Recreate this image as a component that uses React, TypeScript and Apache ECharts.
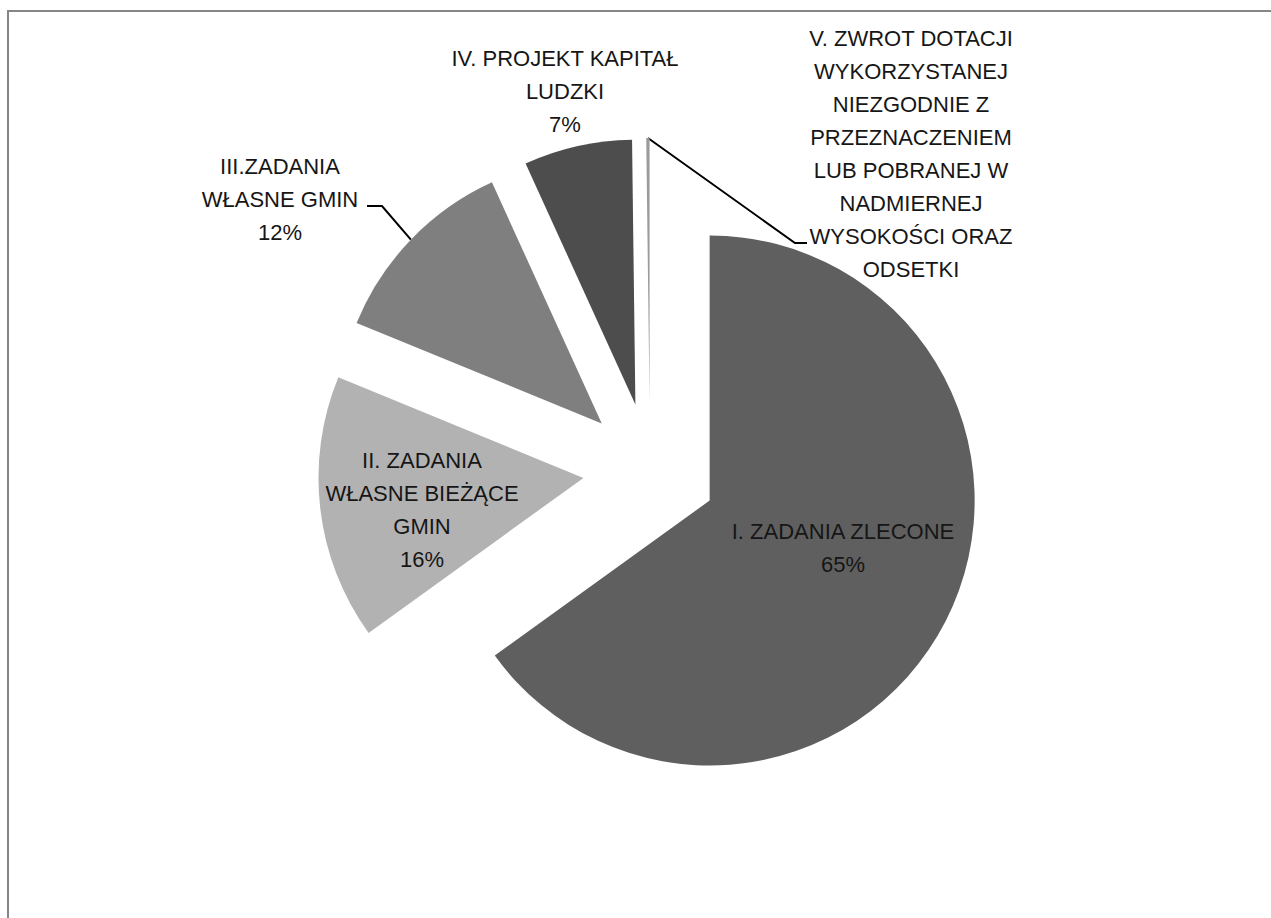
import React, { useEffect, useRef } from "react";
import * as echarts from "echarts";

const categories = [
  "I. ZADANIA ZLECONE",
  "II. ZADANIA\nWŁASNE BIEŻĄCE\nGMIN",
  "III.ZADANIA\nWŁASNE GMIN",
  "IV. PROJEKT KAPITAŁ\nLUDZKI",
  "V. ZWROT DOTACJI\nWYKORZYSTANEJ\nNIEZGODNIE Z\nPRZEZNACZENIEM\nLUB POBRANEJ W\nNADMIERNEJ\nWYSOKOŚCI ORAZ\nODSETKI",
];
const values = [65.05, 16.15, 12.0, 6.6, 0.2];
const showPercent = [true, true, true, true, false];

const sliceColors = ["#5f5f5f", "#b2b2b2", "#7f7f7f", "#4d4d4d", "#9a9a9a"];

const PIE_CENTER: [number, number] = [650, 470];
const PIE_RADIUS = 265;
const EXPLODE = 67;

// label anchors (layout, pixels)
const labelCenters: [number, number][] = [
  [843, 548],
  [422, 510],
  [280, 199],
  [565, 91],
  [911, 154],
];
// leader line bends/ends (layout, pixels)
const leaderPoints: Record<number, [number, number][]> = {
  2: [
    [382, 206],
    [367, 206],
  ],
  4: [
    [795, 243],
    [807, 243],
  ],
};

export default function App() {
  const ref = useRef<HTMLDivElement>(null);
  useEffect(() => {
    if (!ref.current) return;
    const chart = echarts.init(ref.current, undefined, { renderer: "svg" });
    const sliceData = categories.map((name, i) => ({
      name,
      value: values[i],
      selected: true,
      itemStyle: { color: sliceColors[i], borderWidth: 0 },
      select: { itemStyle: { color: sliceColors[i], borderWidth: 0 } },
    }));
    const labelData = categories.map((name, i) => ({
      name,
      value: values[i],
      label: {
        show: true,
        position: i < 2 ? "inside" : "outside",
        formatter: showPercent[i] ? "{b}\n{d}%" : "{b}",
      },
      labelLine: { show: i === 2 || i === 4 },
    }));
    chart.setOption({
      animation: false,
      backgroundColor: "#ffffff",
      graphic: [
        {
          type: "rect",
          silent: true,
          z: -10,
          shape: { x: 8, y: 11, width: 1400, height: 1000 },
          style: { fill: "none", stroke: "#868686", lineWidth: 2 },
        },
      ],
      series: [
        {
          type: "pie",
          center: PIE_CENTER,
          radius: [0, PIE_RADIUS],
          startAngle: 90,
          clockwise: true,
          selectedMode: "multiple",
          selectedOffset: EXPLODE,
          emphasis: { disabled: true },
          label: { show: false },
          labelLine: { show: false },
          data: sliceData,
        },
        {
          type: "pie",
          center: PIE_CENTER,
          radius: [0, PIE_RADIUS],
          startAngle: 90,
          clockwise: true,
          selectedMode: false,
          silent: true,
          percentPrecision: 0,
          avoidLabelOverlap: false,
          emphasis: { disabled: true },
          itemStyle: { color: "rgba(0,0,0,0)", borderWidth: 0 },
          label: {
            color: "#161616",
            fontFamily: "Liberation Sans, Arial, sans-serif",
            fontSize: 22,
            lineHeight: 33,
            align: "center",
          },
          labelLine: {
            length: 47,
            length2: 11,
            smooth: false,
            lineStyle: { color: "#000", width: 2 },
          },
          labelLayout: (params: any) => {
            const i = params.dataIndex;
            const [x, y] = labelCenters[i];
            const res: any = { x, y, align: "center", verticalAlign: "middle" };
            const pts = params.labelLinePoints;
            if (pts && leaderPoints[i]) {
              const p0 = pts[0];
              const vx = p0[0] - PIE_CENTER[0];
              const vy = p0[1] - PIE_CENTER[1];
              const len = Math.sqrt(vx * vx + vy * vy) || 1;
              const start = [
                PIE_CENTER[0] + (vx / len) * (PIE_RADIUS + EXPLODE),
                PIE_CENTER[1] + (vy / len) * (PIE_RADIUS + EXPLODE),
              ];
              res.labelLinePoints = [start, ...leaderPoints[i]];
            }
            return res;
          },
          data: labelData,
        },
      ],
    });
    return () => chart.dispose();
  }, []);
  return (
    <div
      ref={ref}
      style={{ position: "fixed", left: 0, top: 0, width: 1271, height: 918 }}
    />
  );
}
